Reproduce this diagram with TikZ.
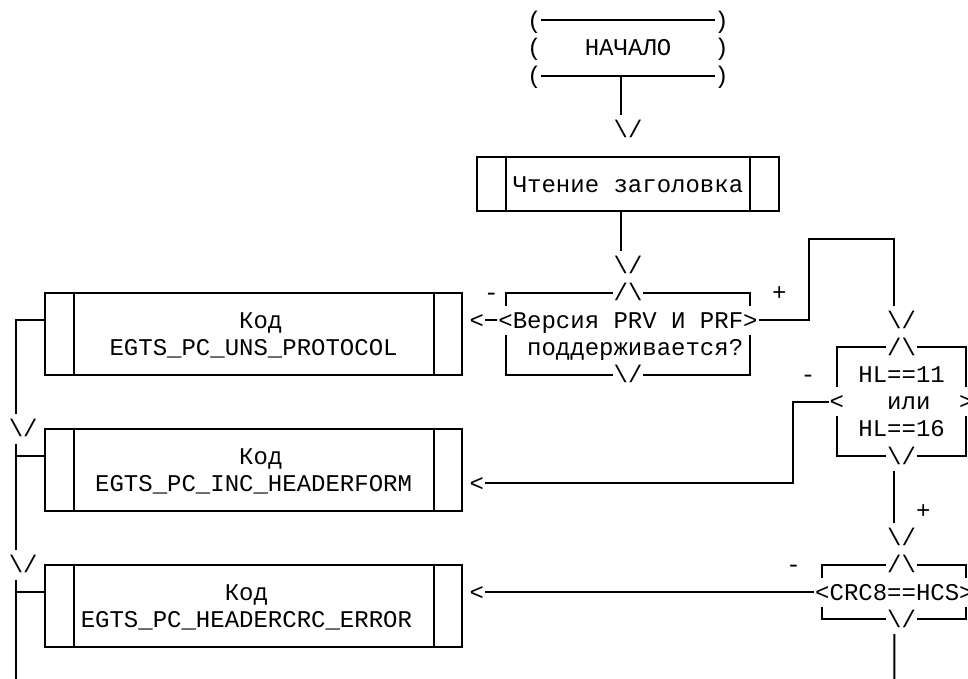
\documentclass[tikz,border=0pt]{standalone}
\usepackage{fontspec}
\setmonofont{Liberation Mono}
\usepackage{tikz}

\newcommand{\rs}{\rule[-2.9pt]{0pt}{13.6pt}}
\newcommand{\arrdown}{\textbackslash/}
\newcommand{\arrup}{/\textbackslash}

\tikzset{
    every node/.style = {
        font=\ttfamily\fontsize{12pt}{13.6pt}\selectfont,
        inner sep=0pt
    },
    glyph/.style = {
        execute at begin node=\rs
    },
    term/.style = {
        glyph,
        minimum width=86.4pt,
        minimum height=27.2pt
    },
    proc/.style = {
        draw,
        align=center,
        path picture={
            \draw ([xshift=14.4pt]path picture bounding box.north west) -- ([xshift=14.4pt]path picture bounding box.south west)
                  ([xshift=-14.4pt]path picture bounding box.north east) -- ([xshift=-14.4pt]path picture bounding box.south east);
        }
    },
    code/.style = {
        proc,
        minimum width=208.8pt,
        minimum height=40.8pt
    },
    cond/.style = {
        align=center
    },
}

\begin{document}
\begin{tikzpicture}[x=7.2pt, y=-13.6pt, line width=1pt]
    \useasboundingbox (-1.1111,-0.7721) rectangle (66.1111,24.1912);

    % start and reading
    \node[term] (start) at (42.5,1) {НАЧАЛО};
    \path[draw] (start.north west) -- (start.north east) (start.south west) -- (start.south east);
    \foreach \r in {0,1,2} {
        \node[glyph] (lp\r) at (36,\r) {(};
        \node[glyph] (rp\r) at (49,\r) {)};
    }
    \node[glyph] (d1) at (42.5,4) {\arrdown};
    \node[proc, glyph, minimum width=151.2pt, minimum height=27.2pt] (read) at (42.5,6) {Чтение заголовка};
    \node[glyph] (d2) at (42.5,9) {\arrdown};

    % version check
    \node[cond] (ver) at (42.5,11.5) {\rs Версия PRV И PRF\\\rs\phantom{0}поддерживается?};
    \node[glyph] (vert) at (42.5,10) {\arrup};
    \node[glyph] (verb) at (42.5,13) {\arrdown};
    \node[glyph] (verl) at (34,11) {<};
    \node[glyph] (verr) at (51,11) {>};
    \node[glyph] (verno) at (33,10) {-};
    \node[glyph] (veryes) at (53,10) {+};
    \path[draw] (verl.north) |- (vert.west) (vert.east) -| (verr.north)
                (verl.south) |- (verb.west) (verb.east) -| (verr.south);

    % header length check
    \node[glyph] (d3) at (61.5,11) {\arrdown};
    \node[cond] (hl) at (61.5,14) {\rs HL==11\\\rs\phantom{0}или\\\rs HL==16};
    \node[glyph] (hlt) at (61.5,12) {\arrup};
    \node[glyph] (hlb) at (61.5,16) {\arrdown};
    \node[glyph] (hll) at (57,14) {<};
    \node[glyph] (hlr) at (66,14) {>};
    \node[glyph] (hlno) at (55,13) {-};
    \node[glyph] (hlyes) at (63,18) {+};
    \path[draw] (hll.north) |- (hlt.west) (hlt.east) -| (hlr.north)
                (hll.south) |- (hlb.west) (hlb.east) -| (hlr.south);

    % crc check
    \node[glyph] (d4) at (61.5,19) {\arrdown};
    \node[glyph] (crc) at (61,21) {CRC8==HCS};
    \node[glyph] (crct) at (61.5,20) {\arrup};
    \node[glyph] (crcb) at (61.5,22) {\arrdown};
    \node[glyph] (crcl) at (56,21) {<};
    \node[glyph] (crcr) at (66,21) {>};
    \node[glyph] (crcno) at (54,20) {-};
    \path[draw] (crcl.north) |- (crct.west) (crct.east) -| (crcr.north)
                (crcl.south) |- (crcb.west) (crcb.east) -| (crcr.south);

    % error codes
    \node[code] (uns) at (16.5,11.5) {\rs\phantom{0}Код\\\rs EGTS\_PC\_UNS\_PROTOCOL};
    \node[code] (inc) at (16.5,16.5) {\rs\phantom{0}Код\\\rs EGTS\_PC\_INC\_HEADERFORM};
    \node[code] (hcs) at (16.5,21.5) {\rs Код\phantom{0}\\\rs EGTS\_PC\_HEADERCRC\_ERROR\phantom{0}};
    \node[glyph] (l1) at (32,11) {<};
    \node[glyph] (l2) at (32,17) {<};
    \node[glyph] (l3) at (32,21) {<};
    \node[glyph] (d5) at (0.5,15) {\arrdown};
    \node[glyph] (d6) at (0.5,20) {\arrdown};
    \coordinate (next) at (61,24.2);
    \coordinate (out) at (0,24.2);

    \path[draw] ([xshift=-3.6pt]start.south) -- ([xshift=-3.6pt]d1.north);
    \path[draw] ([xshift=-3.6pt]read.south) -- ([xshift=-3.6pt]d2.north);
    \path[draw] (verl.west) -- (l1.east);
    \path[draw] (verr.east) -| ++(3.5,-3) -| ([xshift=-3.6pt]d3.north);
    \path[draw] (hll.west) -| ++(-2.5,3) -- (l2.east);
    \path[draw] ([xshift=-3.6pt]hlb.south) -- ([xshift=-3.6pt]d4.north);
    \path[draw] (crcl.west) -- (l3.east);
    \path[draw] ([xshift=-3.6pt]crcb.south) -- (next);

    \path[draw] ([yshift=6.8pt]uns.west) -| ([xshift=-3.6pt]d5.north);
    \path[draw] ([xshift=-3.6pt]d5.south) -- ([xshift=-3.6pt]d6.north);
    \path[draw] ([yshift=6.8pt]inc.west) -| ([xshift=-3.6pt]d5.south);
    \path[draw] ([xshift=-3.6pt]d6.south) -- (out);
    \path[draw] ([yshift=6.8pt]hcs.west) -| ([xshift=-3.6pt]d6.south);
\end{tikzpicture}
\end{document}
